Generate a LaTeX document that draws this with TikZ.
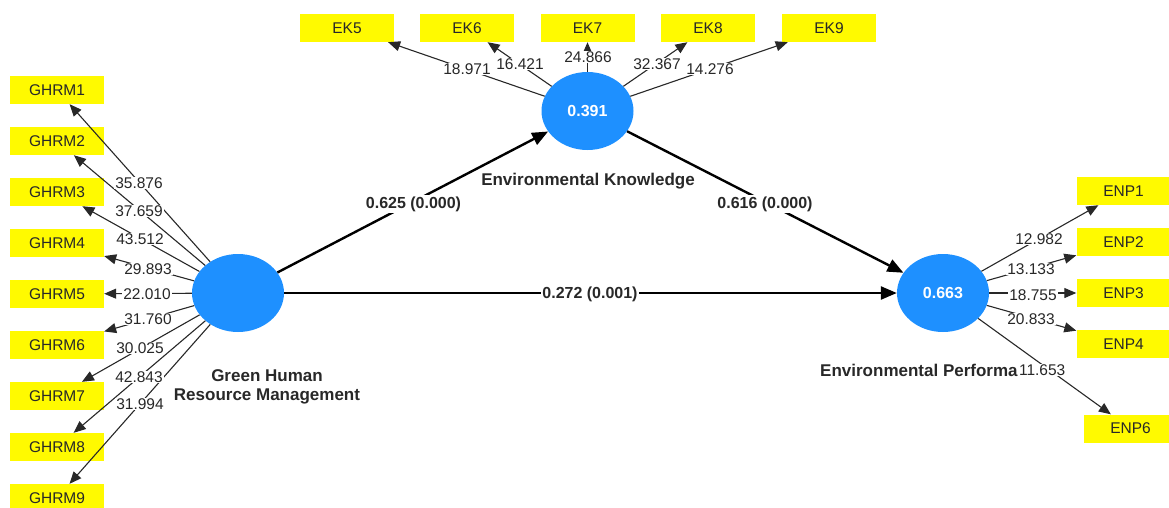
\documentclass[tikz,border=0pt]{standalone}
\usepackage{fontspec}
\setmainfont{Liberation Sans}
\usetikzlibrary{arrows.meta,shapes.geometric}
\definecolor{boxy}{RGB}{255,250,0}
\definecolor{lvblue}{RGB}{30,144,255}
\definecolor{ink}{RGB}{40,40,40}
\begin{document}
\begin{tikzpicture}[x=1pt,y=-1pt,
  ind/.style={fill=boxy, minimum width=94pt, minimum height=28pt, inner sep=0pt, text=ink, font=\fontsize{15.5}{18}\selectfont},
  lv/.style={ellipse, fill=lvblue, minimum width=92pt, minimum height=78pt, inner sep=0pt, text=white, font=\bfseries\fontsize{16}{19}\selectfont},
  load/.style={draw=ink, line width=1.1pt, -{Triangle[length=12pt,width=10pt]}},
  struct/.style={draw=black, line width=2.4pt, -{Triangle[length=16pt,width=13pt]}},
  lbl/.style={fill=white, inner sep=1pt, text=ink, font=\fontsize{15.5}{18}\selectfont},
  plbl/.style={fill=white, inner sep=1.5pt, text=ink, font=\bfseries\fontsize{16}{19}\selectfont},
  lvname/.style={text=ink, font=\bfseries\fontsize{17}{19}\selectfont, align=center}
]
\useasboundingbox (0,0) rectangle (1169,507);
\clip (0,0) rectangle (1169,507);

% latent variables
\node[lv] (ghrm) at (238,293) {};
\node[lv] (ek) at (587.5,111) {0.391};
\node[lv] (enp) at (943,293) {0.663};

% indicators GHRM
\node[ind] (g1) at (57,90) {GHRM1};
\node[ind] (g2) at (57,141) {GHRM2};
\node[ind] (g3) at (57,192) {GHRM3};
\node[ind] (g4) at (57,243) {GHRM4};
\node[ind] (g5) at (57,294) {GHRM5};
\node[ind] (g6) at (57,345) {GHRM6};
\node[ind] (g7) at (57,396) {GHRM7};
\node[ind] (g8) at (57,447) {GHRM8};
\node[ind] (g9) at (57,498) {GHRM9};

% indicators EK
\node[ind] (e5) at (347,28) {EK5};
\node[ind] (e6) at (467,28) {EK6};
\node[ind] (e7) at (587.5,28) {EK7};
\node[ind] (e8) at (708,28) {EK8};
\node[ind] (e9) at (829,28) {EK9};

% indicators ENP
\node[ind] (p1) at (1123.5,191) {ENP1};
\node[ind] (p2) at (1123.5,242) {ENP2};
\node[ind] (p3) at (1123.5,293) {ENP3};
\node[ind] (p4) at (1123.5,344) {ENP4};
\node[ind] (p6) at (1130.5,428.5) {ENP6};

% names
\node[lvname] (ghrmname) at (267,387) {Green Human\\Resource Management};
\node[lvname] (ekname) at (588,181) {Environmental Knowledge};
\node[lvname, anchor=west, inner sep=0pt] (enpname) at (820,370) {Environmental Performa};

% loading lines
\foreach \t in {g1,g2,g3,g4,g5,g6,g7,g8,g9} \draw[load] (ghrm) -- (\t);
\foreach \t in {e5,e6,e7,e8,e9} \draw[load] (ek) -- (\t);
\foreach \t in {p1,p2,p3,p4,p6} \draw[load] (enp) -- (\t);

% structural paths
\draw[struct] (ghrm) -- (ek);
\draw[struct] (ek) -- (enp);
\draw[struct] (ghrm) -- (enp);

% loading labels
\node[lbl] (lg1) at (139,183) {35.876};
\node[lbl] (lg2) at (139,211) {37.659};
\node[lbl] (lg3) at (140,239) {43.512};
\node[lbl] (lg4) at (148,269) {29.893};
\node[lbl] (lg5) at (147,294) {22.010};
\node[lbl] (lg6) at (148,319) {31.760};
\node[lbl] (lg7) at (140,348) {30.025};
\node[lbl] (lg8) at (139,377) {42.843};
\node[lbl] (lg9) at (140,404) {31.994};

\node[lbl] (le5) at (467,69) {18.971};
\node[lbl] (le6) at (520,64) {16.421};
\node[lbl] (le7) at (588,57) {24.866};
\node[lbl] (le8) at (657,64) {32.367};
\node[lbl] (le9) at (710,69) {14.276};

\node[lbl] (lp1) at (1039,239) {12.982};
\node[lbl] (lp2) at (1031,269) {13.133};
\node[lbl] (lp3) at (1033,295) {18.755};
\node[lbl] (lp4) at (1031,319) {20.833};
\node[lbl, anchor=west] (lp6) at (enpname.east) {11.653};

% path labels
\node[plbl] (l1) at (413.5,204) {0.625 (0.000)};
\node[plbl] (l2) at (765,204) {0.616 (0.000)};
\node[plbl] (l3) at (590,294) {0.272 (0.001)};
\end{tikzpicture}
\end{document}
